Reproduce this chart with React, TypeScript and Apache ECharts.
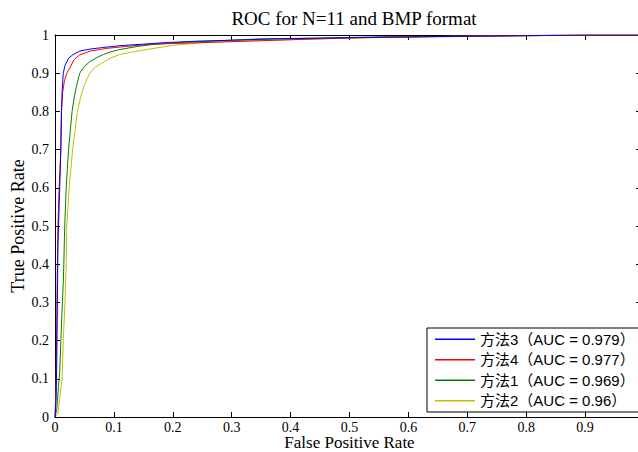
import React, { useEffect, useRef } from "react";
import * as echarts from "echarts";

const seriesNames = ["方法3（AUC = 0.979）", "方法4（AUC = 0.977）", "方法1（AUC = 0.969）", "方法2（AUC = 0.96）"];
const seriesColors = ["#0000ff", "#ff0000", "#008000", "#bfbf00"];

const fpr3 = [0, 0.002, 0.003, 0.004, 0.005, 0.007, 0.009, 0.010, 0.011, 0.012, 0.014, 0.017, 0.023, 0.03, 0.042, 0.059, 0.08, 0.11, 0.15, 0.187, 0.243, 0.314, 0.38, 0.5, 0.6, 0.7, 0.8, 0.9, 1];
const tpr3 = [0, 0.05, 0.15, 0.3, 0.45, 0.55, 0.65, 0.72, 0.8, 0.85, 0.9, 0.92, 0.939, 0.948, 0.958, 0.963, 0.967, 0.972, 0.976, 0.98, 0.984, 0.987, 0.99, 0.993, 0.995, 0.997, 0.998, 1, 1];

const fpr4 = [0, 0.002, 0.003, 0.004, 0.005, 0.007, 0.010, 0.011, 0.013, 0.016, 0.02, 0.025, 0.032, 0.042, 0.06, 0.088, 0.12, 0.165, 0.25, 0.35, 0.45, 0.55, 0.65, 0.75, 0.88, 1];
const tpr4 = [0, 0.1, 0.25, 0.4, 0.5, 0.6, 0.7, 0.8, 0.85, 0.88, 0.9, 0.913, 0.935, 0.948, 0.958, 0.965, 0.97, 0.976, 0.98, 0.985, 0.99, 0.994, 0.996, 0.998, 1, 1];

const fpr1 = [0, 0.003, 0.006, 0.008, 0.010, 0.0125, 0.014, 0.015, 0.016, 0.017, 0.019, 0.021, 0.023, 0.026, 0.029, 0.033, 0.037, 0.042, 0.05, 0.059, 0.07, 0.082, 0.095, 0.11, 0.14, 0.165, 0.21, 0.28, 0.35, 0.45, 0.55, 0.7, 0.85, 0.92, 1];
const tpr1 = [0, 0.02, 0.08, 0.12, 0.2, 0.3, 0.35, 0.4, 0.47, 0.52, 0.6, 0.65, 0.7, 0.75, 0.8, 0.84, 0.87, 0.9, 0.918, 0.93, 0.94, 0.949, 0.956, 0.962, 0.97, 0.975, 0.98, 0.985, 0.99, 0.992, 0.995, 0.997, 0.999, 1, 1];

const fpr2 = [0, 0.005, 0.008, 0.012, 0.014, 0.017, 0.019, 0.02, 0.022, 0.024, 0.027, 0.03, 0.034, 0.038, 0.044, 0.05, 0.059, 0.068, 0.079, 0.095, 0.11, 0.13, 0.16, 0.2, 0.25, 0.3, 0.4, 0.5, 0.6, 0.7, 0.8, 0.9, 1];
const tpr2 = [0, 0.01, 0.05, 0.1, 0.2, 0.3, 0.4, 0.5, 0.55, 0.6, 0.65, 0.7, 0.75, 0.8, 0.84, 0.87, 0.9, 0.915, 0.926, 0.94, 0.949, 0.955, 0.963, 0.973, 0.98, 0.984, 0.988, 0.992, 0.994, 0.996, 0.998, 1, 1];

const curves = [
  [fpr3, tpr3],
  [fpr4, tpr4],
  [fpr1, tpr1],
  [fpr2, tpr2],
];

const serif = "'Liberation Serif', 'Times New Roman', serif";
const sans = "'Liberation Sans', Arial, 'Noto Sans CJK SC', sans-serif";

export default function App() {
  const ref = useRef<HTMLDivElement>(null);
  useEffect(() => {
    if (!ref.current) return;
    const chart = echarts.init(ref.current, undefined, { renderer: "svg" });
    const axisCommon = {
      type: "value" as const,
      min: 0,
      max: 1,
      interval: 0.1,
      axisLine: { show: true, onZero: false, lineStyle: { color: "#000", width: 1 } },
      axisTick: { show: true, inside: true, length: 5, lineStyle: { color: "#000" } },
      splitLine: { show: false },
    };
    const fmtY = (v: number) => (Math.abs(v) < 1e-9 ? "0" : Math.abs(v - 1) < 1e-9 ? "1" : v.toFixed(1));
    const fmtX = (v: number) => (Math.abs(v) < 1e-9 ? "0" : Math.abs(v - 1) < 1e-9 ? "" : v.toFixed(1));
    chart.setOption({
      animation: false,
      backgroundColor: "#fff",
      title: {
        text: "ROC for N=11 and BMP format",
        left: 349,
        top: 4,
        textAlign: "center",
        textStyle: { fontFamily: serif, fontSize: 19, fontWeight: "normal", color: "#000" },
      },
      grid: { left: 55, top: 35, right: 6, bottom: 35, containLabel: false, outerBoundsMode: "none" },
      xAxis: [
        {
          ...axisCommon,
          position: "bottom",
          name: "False Positive Rate",
          nameLocation: "middle",
          nameGap: 17,
          nameMoveOverlap: false,
          nameTextStyle: { fontFamily: serif, fontSize: 17, color: "#000" },
          axisLabel: { fontFamily: serif, fontSize: 14, color: "#000", margin: 3, formatter: fmtX },
        },
        {
          ...axisCommon,
          position: "top",
          axisLabel: { show: false },
        },
      ],
      yAxis: [
        {
          ...axisCommon,
          position: "left",
          name: "True Positive Rate",
          nameLocation: "middle",
          nameGap: 28,
          nameMoveOverlap: false,
          nameTextStyle: { fontFamily: serif, fontSize: 18, color: "#000" },
          axisLabel: { fontFamily: serif, fontSize: 14, color: "#000", margin: 6, formatter: fmtY },
        },
        {
          ...axisCommon,
          position: "right",
          axisTick: { show: true, inside: true, length: 8, lineStyle: { color: "#000" } },
          axisLabel: { show: false },
        },
      ],
      legend: {
        orient: "vertical",
        left: 427,
        top: 328,
        width: 200,
        padding: [3, 8, 3, 8],
        itemGap: 4,
        itemWidth: 40,
        itemHeight: 1.5,
        icon: "rect",
        borderColor: "#000",
        borderWidth: 1,
        backgroundColor: "#fff",
        textStyle: { fontFamily: sans, fontSize: 15, color: "#000", lineHeight: 16.5 },
        data: seriesNames,
      },
      series: curves.map(([xs, ys], i) => ({
        type: "line",
        name: seriesNames[i],
        data: xs.map((x, j) => [x, ys[j]]),
        symbol: "none",
        lineStyle: { color: seriesColors[i], width: 1 },
        itemStyle: { color: seriesColors[i] },
        z: 10 - i,
      })),
    });
    return () => chart.dispose();
  }, []);
  return (
    <div
      ref={ref}
      style={{ position: "fixed", left: 0, top: 0, width: 650, height: 452, background: "#fff" }}
    />
  );
}
